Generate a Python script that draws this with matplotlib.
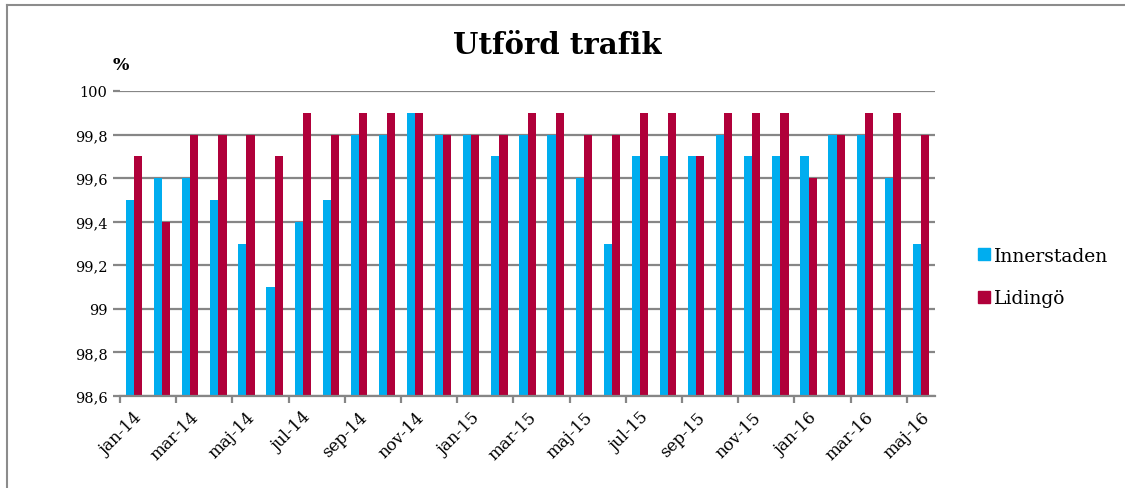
import matplotlib
matplotlib.use("Agg")
import matplotlib.pyplot as plt
import numpy as np
from matplotlib.lines import Line2D
from matplotlib.ticker import FixedLocator, FuncFormatter

months = ["jan-14", "feb-14", "mar-14", "apr-14", "maj-14", "jun-14", "jul-14", "aug-14",
          "sep-14", "okt-14", "nov-14", "dec-14", "jan-15", "feb-15", "mar-15", "apr-15",
          "maj-15", "jun-15", "jul-15", "aug-15", "sep-15", "okt-15", "nov-15", "dec-15",
          "jan-16", "feb-16", "mar-16", "apr-16", "maj-16"]
innerstaden = [99.5, 99.6, 99.6, 99.5, 99.3, 99.1, 99.4, 99.5, 99.8, 99.8, 99.9, 99.8,
               99.8, 99.7, 99.8, 99.8, 99.6, 99.3, 99.7, 99.7, 99.7, 99.8, 99.7, 99.7,
               99.7, 99.8, 99.8, 99.6, 99.3]
lidingo = [99.7, 99.4, 99.8, 99.8, 99.8, 99.7, 99.9, 99.8, 99.9, 99.9, 99.9, 99.8,
           99.8, 99.8, 99.9, 99.9, 99.8, 99.8, 99.9, 99.9, 99.7, 99.9, 99.9, 99.9,
           99.6, 99.8, 99.9, 99.9, 99.8]
series_names = ["Innerstaden", "Lidingö"]
title = "Utförd trafik"
y_unit = "%"

c_blue = "#00ADEF"
c_red = "#B0003A"
grid_c = "#868686"
serif = ["DejaVu Serif"]

fig = plt.figure(figsize=(11.25, 4.89), dpi=100)
ax = fig.add_axes([120 / 1125, 1 - 397 / 489, (935 - 120) / 1125, (397 - 92) / 489])

x = np.arange(len(months))
w = 0.29
base = 98.6
ax.bar(x - w / 2, np.array(innerstaden) - base, w, bottom=base, color=c_blue, zorder=3)
ax.bar(x + w / 2, np.array(lidingo) - base, w, bottom=base, color=c_red, zorder=3)

ax.set_xlim(-0.5, len(months) - 0.5)
ax.set_ylim(98.6, 100)
yt = np.round(np.arange(98.6, 100.01, 0.2), 1)
ax.set_yticks(yt)
ax.yaxis.set_major_formatter(FuncFormatter(lambda v, p: ("%g" % round(v, 1)).replace(".", ",")))
ax.yaxis.grid(True, color=grid_c, linewidth=1.6, zorder=0)
ax.tick_params(axis="y", length=5, color=grid_c, width=1.6, labelsize=10.5, pad=4)

# x ticks: labels at every other category, tick marks at category boundaries
ax.set_xticks(x[::2])
ax.set_xticklabels(months[::2], rotation=45, ha="right", rotation_mode="anchor",
                   fontsize=12, family=serif)
ax.tick_params(axis="x", length=0, pad=9)
ax.xaxis.set_minor_locator(FixedLocator(np.arange(-0.5, len(months), 2)))
ax.tick_params(axis="x", which="minor", length=5, color=grid_c, width=1.6)

for s in ["top", "right", "left"]:
    ax.spines[s].set_visible(False)
ax.spines["bottom"].set_color(grid_c)
ax.spines["bottom"].set_linewidth(1.6)
ax.spines["bottom"].set_zorder(4)

for lab in ax.get_yticklabels():
    lab.set_family(serif)

fig.text(557 / 1125, 1 - 46 / 489, title, ha="center", va="center",
         fontsize=21, fontweight="bold", family=serif)
fig.text(121 / 1125, 1 - 66 / 489, y_unit, ha="center", va="center",
         fontsize=12.5, fontweight="bold", family=serif)

handles = [Line2D([], [], marker="s", linestyle="none", markersize=8, color=c_blue),
           Line2D([], [], marker="s", linestyle="none", markersize=8, color=c_red)]
fig.legend(handles, series_names, loc="center left",
           bbox_to_anchor=(958 / 1125, 1 - 278 / 489), frameon=False,
           prop={"family": serif, "size": 13.5}, handletextpad=0.0,
           labelspacing=1.3, handlelength=1.0)

# partial border frame (top and left)
fig.add_artist(Line2D([7 / 1125, 1.0], [1 - 6 / 489, 1 - 6 / 489],
                      transform=fig.transFigure, color="#8C8C8C", linewidth=1.5))
fig.add_artist(Line2D([7 / 1125, 7 / 1125], [0, 1 - 6 / 489],
                      transform=fig.transFigure, color="#8C8C8C", linewidth=1.5))

fig.savefig("out.png", dpi=100)
